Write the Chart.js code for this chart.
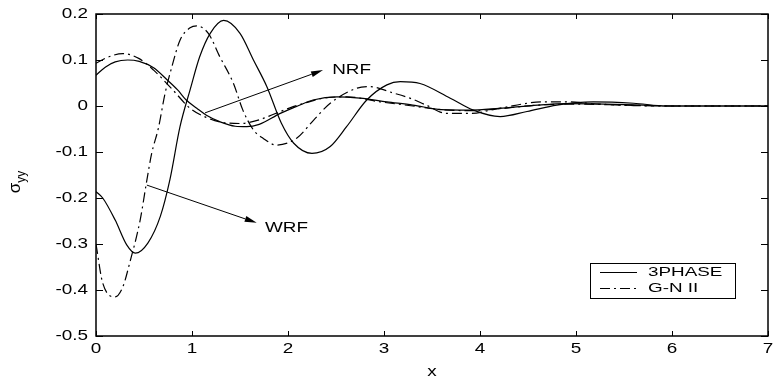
<!DOCTYPE html>
<html>
<head>
<meta charset="utf-8">
<script src="https://cdn.jsdelivr.net/npm/chart.js@4"></script>
<style>
	html, body { margin: 0; padding: 0; background: #fff; }
	#wrap { width: 780px; height: 381px; }
</style>
</head>
<body>
<div id="wrap"><canvas id="sigmaChart"></canvas></div>
<script>
// 3PHASE, NRF
const phaseNrfX = [0, 0.1, 0.2, 0.33, 0.45, 0.6, 0.74, 0.85, 0.94, 1.05, 1.15, 1.3, 1.45, 1.57, 1.7, 1.92, 2.1, 2.26, 2.51, 2.75, 3.03, 3.3, 3.6, 3.9, 4.2, 4.6, 4.9, 5.3, 5.7, 6.0, 7];
const phaseNrfY = [0.067, 0.085, 0.096, 0.1, 0.097, 0.083, 0.057, 0.035, 0.013, -0.005, -0.02, -0.035, -0.044, -0.045, -0.04, -0.016, 0.0, 0.013, 0.02, 0.017, 0.009, 0.002, -0.008, -0.009, -0.005, 0.002, 0.005, 0.004, 0.002, 0, 0];

// G-N II, NRF
const gnNrfX = [0, 0.1, 0.28, 0.45, 0.6, 0.8, 0.98, 1.15, 1.3, 1.5, 1.7, 1.85, 2.02, 2.2, 2.37, 2.61, 2.96, 3.3, 3.6, 3.9, 4.2, 4.6, 5.0, 5.5, 6.0, 7];
const gnNrfY = [0.093, 0.104, 0.114, 0.103, 0.078, 0.035, -0.005, -0.025, -0.035, -0.038, -0.03, -0.018, -0.004, 0.008, 0.017, 0.02, 0.009, 0.0, -0.008, -0.01, -0.006, 0.002, 0.004, 0.002, 0, 0];

// 3PHASE, WRF
const phaseWrfX = [0, 0.07, 0.2, 0.32, 0.41, 0.54, 0.67, 0.77, 0.875, 0.98, 1.08, 1.19, 1.33, 1.5, 1.64, 1.78, 1.93, 2.06, 2.25, 2.44, 2.61, 2.82, 3.03, 3.17, 3.375, 3.69, 3.93, 4.21, 4.49, 4.8, 5.18, 5.6, 5.94, 6.3, 7];
const phaseWrfY = [-0.186, -0.2, -0.248, -0.302, -0.32, -0.298, -0.24, -0.16, -0.045, 0.035, 0.107, 0.158, 0.186, 0.158, 0.1, 0.042, -0.037, -0.081, -0.103, -0.088, -0.045, 0.013, 0.046, 0.053, 0.049, 0.017, -0.009, -0.023, -0.012, 0.002, 0.009, 0.006, 0.0, 0, 0];

// G-N II, WRF
const gnWrfX = [0, 0.07, 0.2, 0.28, 0.35, 0.46, 0.53, 0.58, 0.65, 0.72, 0.79, 0.875, 0.98, 1.05, 1.17, 1.29, 1.43, 1.53, 1.64, 1.74, 1.88, 2.09, 2.27, 2.44, 2.72, 2.85, 3.1, 3.27, 3.44, 3.65, 3.9, 4.2, 4.66, 4.9, 5.25, 5.6, 6.0, 7];
const gnWrfY = [-0.3, -0.385, -0.415, -0.393, -0.342, -0.248, -0.161, -0.103, -0.048, 0.028, 0.085, 0.143, 0.17, 0.174, 0.158, 0.107, 0.05, -0.009, -0.052, -0.07, -0.085, -0.07, -0.03, 0.006, 0.039, 0.042, 0.028, 0.017, 0.002, -0.016, -0.016, -0.005, 0.009, 0.009, 0.004, 0.001, 0, 0];

const xTicks = [0, 1, 2, 3, 4, 5, 6, 7];
const yTicks = [-0.5, -0.4, -0.3, -0.2, -0.1, 0, 0.1, 0.2];
const yTickLabels = ['-0.5', '-0.4', '-0.3', '-0.2', '-0.1', '0', '0.1', '0.2'];

// стрелки: [x0, y0, x1, y1] в единицах осей, подписи: [текст, x, y]
const arrowNrf = [1.135, -0.015, 2.365, 0.078];
const arrowWrf = [0.53, -0.172, 1.674, -0.254];
const arrowNotes = [['NRF', 2.46, 0.078], ['WRF', 1.76, -0.265]];

const FONT = '"Liberation Sans", Arial, sans-serif';
const SX = 1.35; // текст в картинке растянут по горизонтали
const dashDot = [10, 4, 2, 4];

function toPoints(xs, ys) {
	return xs.map((x, i) => ({ x: x, y: ys[i] }));
}

function curve(label, xs, ys, dash) {
	return {
		label: label,
		data: toPoints(xs, ys),
		borderColor: '#000',
		borderWidth: 1.2,
		borderDash: dash,
		pointRadius: 0,
		cubicInterpolationMode: 'monotone',
		fill: false
	};
}

function wideText(ctx, text, x, y, align, sx = SX) {
	ctx.save();
	ctx.translate(x, y);
	ctx.scale(sx, 1);
	ctx.textAlign = align;
	ctx.fillText(text, 0, 0);
	ctx.restore();
}

function DrawArrow(ctx, x0, y0, x1, y1) {
	const a = Math.atan2(y1 - y0, x1 - x0);
	const len = 12, half = 3;
	const bx = x1 - len * Math.cos(a), by = y1 - len * Math.sin(a);
	ctx.beginPath();
	ctx.moveTo(x0, y0);
	ctx.lineTo(bx, by);
	ctx.stroke();
	ctx.beginPath();
	ctx.moveTo(x1, y1);
	ctx.lineTo(bx - half * Math.sin(a), by + half * Math.cos(a));
	ctx.lineTo(bx + half * Math.sin(a), by - half * Math.cos(a));
	ctx.closePath();
	ctx.fill();
}

// рамка осей с внутренними засечками, как в MATLAB
const framePlugin = {
	id: 'frame',
	afterDatasetsDraw(chart) {
		const { ctx, chartArea: a, scales } = chart;
		ctx.save();
		ctx.strokeStyle = '#000';
		ctx.lineWidth = 1.5;
		ctx.strokeRect(a.left, a.top, a.right - a.left, a.bottom - a.top);
		ctx.lineWidth = 1;
		ctx.beginPath();
		xTicks.forEach(v => {
			const px = Math.round(scales.x.getPixelForValue(v)) + 0.5;
			ctx.moveTo(px, a.bottom); ctx.lineTo(px, a.bottom - 5);
			ctx.moveTo(px, a.top); ctx.lineTo(px, a.top + 5);
		});
		yTicks.forEach(v => {
			const py = Math.round(scales.y.getPixelForValue(v)) + 0.5;
			ctx.moveTo(a.left, py); ctx.lineTo(a.left + 7, py);
			ctx.moveTo(a.right, py); ctx.lineTo(a.right - 7, py);
		});
		ctx.stroke();
		ctx.restore();
	}
};

const textPlugin = {
	id: 'texts',
	afterDraw(chart) {
		const { ctx, chartArea: a, scales } = chart;
		const sx = scales.x, sy = scales.y;
		ctx.save();
		ctx.fillStyle = '#000';
		ctx.strokeStyle = '#000';
		ctx.textBaseline = 'middle';
		ctx.font = '14px ' + FONT;

		// подписи делений
		yTicks.forEach((v, i) => wideText(ctx, yTickLabels[i], a.left - 8, sy.getPixelForValue(v), 'right'));
		xTicks.forEach(v => wideText(ctx, String(v), sx.getPixelForValue(v), a.bottom + 13, 'center'));
		wideText(ctx, 'x', (a.left + a.right) / 2, a.bottom + 36, 'center');

		// подпись оси Y: sigma с индексом yy
		ctx.save();
		ctx.translate(20, 182);
		ctx.rotate(-Math.PI / 2);
		ctx.textBaseline = 'alphabetic';
		ctx.font = '17px ' + FONT;
		const w1 = ctx.measureText('σ').width;
		ctx.font = '12px ' + FONT;
		const w2 = ctx.measureText('yy').width;
		const x0 = -(w1 + w2) / 2;
		ctx.font = '17px ' + FONT;
		ctx.textAlign = 'left';
		ctx.fillText('σ', x0, 0);
		ctx.font = '12px ' + FONT;
		ctx.fillText('yy', x0 + w1, 5);
		ctx.restore();

		// стрелки и подписи к ним
		ctx.lineWidth = 1;
		[arrowNrf, arrowWrf].forEach(ar => {
			DrawArrow(ctx, sx.getPixelForValue(ar[0]), sy.getPixelForValue(ar[1]),
				sx.getPixelForValue(ar[2]), sy.getPixelForValue(ar[3]));
		});
		ctx.font = '14px ' + FONT;
		arrowNotes.forEach(n => wideText(ctx, n[0], sx.getPixelForValue(n[1]), sy.getPixelForValue(n[2]), 'left'));

		// легенда в рамке
		const box = { left: 590, top: 263, right: 735, bottom: 298 };
		ctx.fillStyle = '#fff';
		ctx.fillRect(box.left, box.top, box.right - box.left, box.bottom - box.top);
		ctx.lineWidth = 1;
		ctx.strokeRect(box.left + 0.5, box.top + 0.5, box.right - box.left, box.bottom - box.top);
		ctx.fillStyle = '#000';
		ctx.font = '13px ' + FONT;
		chart.data.datasets.slice(0, 2).forEach((ds, i) => {
			const y = box.top + 9.5 + i * 16;
			ctx.setLineDash(ds.borderDash || []);
			ctx.lineWidth = 1.2;
			ctx.beginPath();
			ctx.moveTo(box.left + 10, y);
			ctx.lineTo(box.left + 47, y);
			ctx.stroke();
			ctx.setLineDash([]);
			wideText(ctx, ds.label, box.left + 58, y, 'left', 1.45);
		});
		ctx.restore();
	}
};

new Chart(document.getElementById('sigmaChart'), {
	type: 'line',
	data: {
		datasets: [
			curve('3PHASE', phaseNrfX, phaseNrfY, []),
			curve('G-N II', gnNrfX, gnNrfY, dashDot),
			curve('3PHASE', phaseWrfX, phaseWrfY, []),
			curve('G-N II', gnWrfX, gnWrfY, dashDot)
		]
	},
	options: {
		responsive: true,
		maintainAspectRatio: false,
		animation: false,
		layout: { padding: { left: 0, right: 12, top: 14, bottom: 0 } },
		plugins: { legend: { display: false }, tooltip: { enabled: false } },
		scales: {
			x: {
				type: 'linear',
				min: 0,
				max: 7,
				ticks: { display: false, stepSize: 1 },
				grid: { display: false },
				border: { display: false },
				afterFit: s => { s.height = 45; }
			},
			y: {
				min: -0.5,
				max: 0.2,
				ticks: { display: false, stepSize: 0.1 },
				grid: { display: false },
				border: { display: false },
				afterFit: s => { s.width = 96; }
			}
		}
	},
	plugins: [framePlugin, textPlugin]
});
</script>
</body>
</html>
